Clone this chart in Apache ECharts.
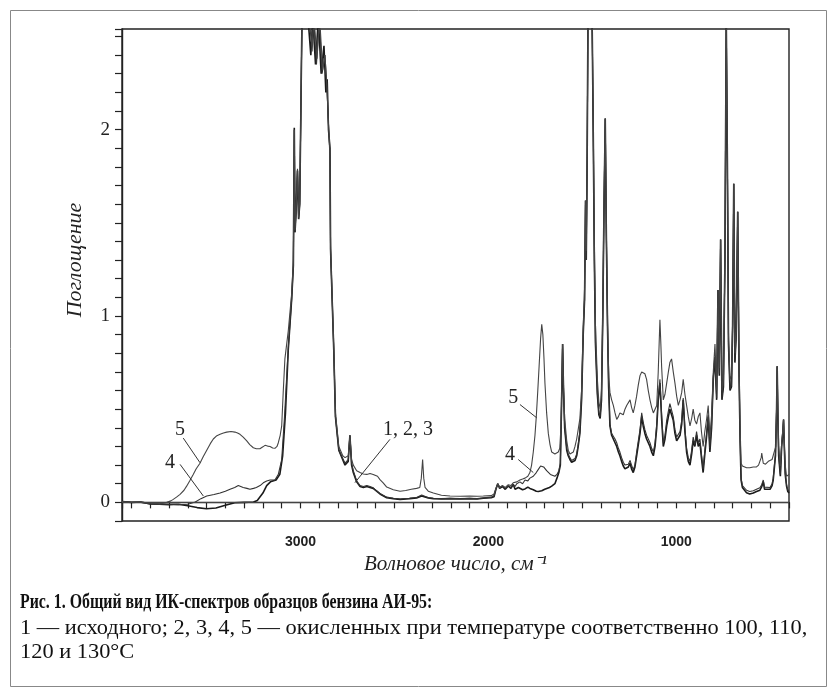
<!DOCTYPE html>
<html>
<head>
<meta charset="utf-8">
<script src="https://cdn.jsdelivr.net/npm/echarts@6/dist/echarts.min.js"></script>
<style>
  html, body { margin: 0; padding: 0; background: #fff; }
  #chart { width: 833px; height: 693px; }
</style>
</head>
<body>
<div id="chart"></div>
<script>
// IR absorption spectra of AI-95 gasoline samples: [wavenumber cm^-1, absorbance]
const WAVENUMBER_LABELS = [1000, 2000, 3000];
const ABSORBANCE_LABELS = [0, 1, 2];

// samples 1, 2, 3 (initial and oxidised at 100 and 110 °C) — practically coincide
const curve123 = [
  [3950,0.005],[3900,0],[3850,0.002],[3800,-0.008],[3750,-0.01],[3700,-0.012],[3650,-0.01],
  [3600,-0.018],[3550,-0.028],[3500,-0.034],[3450,-0.03],[3400,-0.016],[3350,-0.002],[3300,0],
  [3250,0.002],[3230,0.01],[3200,0.05],[3180,0.09],[3160,0.11],[3130,0.12],[3110,0.15],[3095,0.25],
  [3080,0.48],[3065,0.82],[3047,1.09],[3038,1.27],[3033,2.01],[3029,1.45],[3024,1.55],[3016,1.78],
  [3010,1.52],[3004,1.6],[2998,2.1],[2992,2.6],[2960,2.6],[2945,2.4],[2935,2.6],[2920,2.35],
  [2905,2.6],[2890,2.3],[2875,2.45],[2865,2.2],[2858,2.27],[2851,2.0],[2843,1.9],[2840,1.36],
  [2823,0.82],[2814,0.46],[2796,0.28],[2763,0.2],[2746,0.22],[2737,0.36],[2728,0.2],[2719,0.16],
  [2701,0.11],[2683,0.085],[2665,0.08],[2647,0.085],[2630,0.08],[2613,0.075],[2595,0.06],[2577,0.045],
  [2541,0.025],[2506,0.02],[2470,0.016],[2420,0.02],[2382,0.024],[2355,0.034],[2345,0.03],[2320,0.024],
  [2293,0.02],[2250,0.018],[2204,0.02],[2150,0.018],[2100,0.02],[2060,0.018],[2027,0.022],[1985,0.025],
  [1970,0.03],[1960,0.07],[1950,0.1],[1940,0.075],[1925,0.085],[1910,0.07],[1894,0.088],[1880,0.075],
  [1868,0.097],[1858,0.07],[1849,0.06],[1840,0.08],[1832,0.09],[1818,0.068],[1805,0.072],[1790,0.082],
  [1779,0.075],[1761,0.068],[1745,0.06],[1734,0.058],[1716,0.062],[1700,0.07],[1690,0.073],[1675,0.08],
  [1663,0.087],[1646,0.1],[1635,0.13],[1625,0.16],[1617,0.2],[1611,0.5],[1605,0.85],[1600,0.6],
  [1594,0.4],[1583,0.28],[1575,0.25],[1566,0.23],[1557,0.215],[1548,0.21],[1539,0.225],[1530,0.25],
  [1522,0.3],[1513,0.37],[1504,0.55],[1495,0.91],[1488,1.09],[1483,1.62],[1479,1.3],[1474,1.88],
  [1470,2.6],[1448,2.6],[1442,2.0],[1436,1.3],[1430,0.85],[1420,0.58],[1412,0.47],[1405,0.45],
  [1398,0.55],[1391,1.0],[1385,1.55],[1378,2.06],[1372,1.42],[1366,0.95],[1360,0.62],[1353,0.41],
  [1344,0.36],[1335,0.34],[1326,0.32],[1317,0.3],[1308,0.27],[1300,0.25],[1291,0.22],[1282,0.195],
  [1273,0.18],[1264,0.177],[1255,0.19],[1246,0.21],[1238,0.18],[1229,0.16],[1220,0.19],[1211,0.25],
  [1202,0.31],[1193,0.37],[1184,0.46],[1176,0.41],[1167,0.37],[1158,0.34],[1149,0.32],[1140,0.3],
  [1131,0.27],[1122,0.25],[1113,0.3],[1104,0.4],[1096,0.55],[1087,0.64],[1078,0.45],[1069,0.3],
  [1060,0.34],[1051,0.41],[1042,0.46],[1034,0.5],[1025,0.5],[1016,0.44],[1007,0.37],[998,0.33],
  [989,0.32],[980,0.36],[971,0.42],[963,0.55],[954,0.38],[945,0.27],[936,0.22],[927,0.2],
  [918,0.26],[910,0.33],[901,0.3],[892,0.36],[883,0.3],[874,0.32],[866,0.24],[857,0.16],
  [848,0.26],[838,0.36],[830,0.46],[821,0.27],[812,0.4],[803,0.66],[794,0.78],[785,0.55],
  [778,1.14],[771,0.68],[764,1.41],[757,0.55],[749,0.62],[741,1.3],[734,2.6],[728,1.83],
  [722,0.85],[714,0.6],[706,0.62],[700,0.95],[694,1.71],[688,0.75],[681,0.9],[673,1.56],
  [666,0.7],[660,0.32],[655,0.12],[648,0.08],[640,0.07],[626,0.052],[609,0.045],[590,0.05],
  [573,0.058],[555,0.065],[545,0.085],[537,0.11],[530,0.07],[520,0.06],[501,0.07],[490,0.09],
  [484,0.12],[472,0.25],[466,0.5],[463,0.73],[459,0.45],[455,0.25],[446,0.14],[439,0.3],
  [433,0.37],[429,0.445],[425,0.3],[420,0.15],[413,0.087],[407,0.06],[400,0.05]
];

// sample 4 — oxidised at 120 °C
const curve4 = [
  [3950,0.005],[3900,0],[3850,0],[3800,-0.008],[3750,-0.01],[3700,-0.01],[3650,-0.012],[3600,-0.01],
  [3560,0.002],[3530,0.02],[3499,0.034],[3460,0.042],[3428,0.05],[3400,0.06],[3375,0.07],[3350,0.08],
  [3331,0.09],[3305,0.08],[3285,0.075],[3269,0.07],[3250,0.075],[3235,0.08],[3215,0.09],[3198,0.105],
  [3180,0.115],[3162,0.12],[3136,0.12],[3118,0.15],[3100,0.23],[3085,0.46],[3065,0.83],[3047,1.09],
  [3038,1.27],[3033,2.0],[3029,1.45],[3024,1.55],[3016,1.78],[3010,1.52],[3004,1.6],[2998,2.1],
  [2992,2.6],[2955,2.6],[2940,2.45],[2930,2.6],[2915,2.35],[2900,2.6],[2885,2.3],[2870,2.4],
  [2858,2.2],[2850,2.0],[2843,1.85],[2840,1.36],[2823,0.82],[2814,0.46],[2796,0.28],[2763,0.21],
  [2746,0.23],[2737,0.36],[2728,0.21],[2719,0.17],[2701,0.115],[2683,0.09],[2665,0.085],[2647,0.09],
  [2630,0.085],[2613,0.078],[2595,0.062],[2577,0.048],[2541,0.028],[2506,0.022],[2470,0.018],[2420,0.022],
  [2382,0.026],[2355,0.04],[2345,0.032],[2320,0.025],[2293,0.022],[2250,0.02],[2204,0.022],[2150,0.02],
  [2100,0.022],[2060,0.02],[2027,0.024],[1985,0.028],[1970,0.035],[1960,0.07],[1950,0.1],[1940,0.08],
  [1925,0.09],[1910,0.075],[1894,0.09],[1880,0.08],[1868,0.097],[1858,0.085],[1849,0.1],[1840,0.095],
  [1832,0.11],[1818,0.1],[1805,0.12],[1790,0.115],[1779,0.13],[1761,0.14],[1745,0.16],[1734,0.177],
  [1722,0.195],[1716,0.2],[1706,0.19],[1699,0.186],[1690,0.17],[1681,0.16],[1670,0.15],[1663,0.14],
  [1646,0.14],[1635,0.15],[1625,0.17],[1617,0.21],[1611,0.5],[1605,0.85],[1600,0.6],[1594,0.41],
  [1583,0.29],[1575,0.26],[1566,0.24],[1557,0.225],[1548,0.22],[1539,0.235],[1530,0.26],[1522,0.31],
  [1513,0.38],[1504,0.56],[1495,0.92],[1488,1.09],[1483,1.6],[1479,1.3],[1474,1.88],[1470,2.6],
  [1448,2.6],[1442,2.0],[1436,1.3],[1430,0.86],[1420,0.59],[1412,0.48],[1405,0.46],[1398,0.56],
  [1391,1.0],[1385,1.55],[1378,2.06],[1372,1.42],[1366,0.95],[1360,0.63],[1353,0.42],[1344,0.37],
  [1335,0.355],[1326,0.34],[1317,0.32],[1308,0.29],[1300,0.27],[1291,0.24],[1282,0.215],[1273,0.2],
  [1264,0.19],[1255,0.205],[1246,0.225],[1238,0.2],[1229,0.175],[1220,0.2],[1211,0.27],[1202,0.33],
  [1193,0.39],[1184,0.48],[1176,0.43],[1167,0.39],[1158,0.36],[1149,0.34],[1140,0.32],[1131,0.29],
  [1122,0.27],[1113,0.32],[1104,0.42],[1096,0.56],[1087,0.66],[1078,0.47],[1069,0.32],[1060,0.36],
  [1051,0.44],[1042,0.49],[1034,0.53],[1025,0.52],[1016,0.46],[1007,0.39],[998,0.35],[989,0.34],
  [980,0.38],[971,0.44],[963,0.56],[954,0.4],[945,0.29],[936,0.24],[927,0.22],[918,0.28],
  [910,0.35],[901,0.31],[892,0.38],[883,0.32],[874,0.34],[866,0.26],[857,0.18],[848,0.28],
  [838,0.38],[830,0.47],[821,0.29],[812,0.42],[803,0.67],[794,0.78],[785,0.56],[778,1.14],
  [771,0.69],[764,1.41],[757,0.56],[749,0.63],[741,1.3],[734,2.6],[728,1.83],[722,0.86],
  [714,0.61],[706,0.63],[700,0.95],[694,1.71],[688,0.76],[681,0.9],[673,1.56],[666,0.71],
  [660,0.33],[655,0.13],[648,0.09],[640,0.08],[626,0.065],[609,0.058],[590,0.062],[573,0.07],
  [555,0.078],[545,0.095],[537,0.12],[530,0.082],[520,0.072],[501,0.08],[490,0.1],[484,0.13],
  [472,0.26],[466,0.5],[463,0.73],[459,0.45],[455,0.26],[446,0.15],[439,0.31],[433,0.38],
  [429,0.445],[425,0.31],[420,0.16],[413,0.095],[407,0.068],[400,0.058]
];

// sample 5 — oxidised at 130 °C
const curve5 = [
  [3950,0.005],[3900,0],[3850,0.002],[3800,-0.005],[3750,-0.008],[3712,0],[3690,0.008],[3677,0.016],
  [3660,0.028],[3641,0.043],[3620,0.065],[3606,0.087],[3590,0.115],[3571,0.15],[3555,0.18],[3535,0.21],
  [3518,0.245],[3499,0.28],[3480,0.315],[3464,0.34],[3445,0.358],[3428,0.365],[3410,0.372],[3393,0.377],
  [3370,0.38],[3349,0.377],[3335,0.372],[3322,0.365],[3305,0.35],[3286,0.33],[3270,0.31],[3251,0.293],
  [3235,0.288],[3216,0.288],[3200,0.298],[3189,0.306],[3175,0.302],[3162,0.3],[3148,0.292],[3136,0.29],
  [3125,0.3],[3118,0.32],[3108,0.36],[3100,0.41],[3092,0.59],[3083,0.77],[3065,0.92],[3047,1.12],
  [3038,1.3],[3033,2.0],[3029,1.46],[3024,1.56],[3016,1.79],[3010,1.53],[3004,1.62],[2998,2.1],
  [2992,2.6],[2950,2.6],[2938,2.42],[2928,2.6],[2912,2.38],[2898,2.6],[2882,2.32],[2870,2.4],
  [2860,2.25],[2852,2.05],[2844,1.9],[2840,1.38],[2823,0.84],[2814,0.48],[2796,0.3],[2775,0.25],
  [2763,0.24],[2746,0.25],[2737,0.36],[2728,0.23],[2719,0.2],[2701,0.17],[2683,0.16],[2666,0.152],
  [2647,0.15],[2630,0.155],[2613,0.15],[2590,0.14],[2577,0.122],[2560,0.105],[2541,0.082],[2506,0.068],
  [2470,0.06],[2440,0.064],[2410,0.07],[2382,0.075],[2365,0.08],[2357,0.13],[2350,0.23],[2344,0.13],
  [2337,0.08],[2320,0.06],[2293,0.05],[2250,0.038],[2204,0.034],[2150,0.033],[2100,0.034],[2060,0.033],
  [2027,0.034],[1985,0.036],[1970,0.045],[1960,0.075],[1950,0.1],[1940,0.08],[1925,0.09],[1910,0.08],
  [1894,0.095],[1880,0.09],[1868,0.105],[1858,0.1],[1849,0.11],[1840,0.115],[1832,0.12],[1818,0.125],
  [1805,0.13],[1790,0.14],[1779,0.16],[1770,0.2],[1761,0.27],[1752,0.36],[1745,0.46],[1737,0.6],
  [1730,0.73],[1722,0.88],[1716,0.955],[1710,0.9],[1704,0.77],[1699,0.64],[1690,0.48],[1681,0.37],
  [1672,0.31],[1663,0.27],[1655,0.262],[1646,0.26],[1637,0.265],[1628,0.27],[1620,0.29],[1614,0.4],
  [1610,0.6],[1605,0.85],[1600,0.62],[1594,0.45],[1583,0.33],[1575,0.28],[1566,0.26],[1557,0.255],
  [1548,0.27],[1539,0.3],[1530,0.34],[1522,0.39],[1513,0.45],[1504,0.6],[1495,0.95],[1488,1.15],
  [1483,1.62],[1479,1.35],[1474,1.88],[1470,2.6],[1448,2.6],[1442,2.05],[1436,1.4],[1430,0.95],
  [1420,0.66],[1412,0.54],[1405,0.5],[1398,0.6],[1391,1.05],[1385,1.6],[1378,2.06],[1372,1.45],
  [1366,1.0],[1362,0.78],[1358,0.66],[1353,0.59],[1344,0.55],[1335,0.52],[1326,0.48],[1317,0.445],
  [1308,0.46],[1300,0.48],[1291,0.47],[1282,0.47],[1273,0.5],[1264,0.52],[1255,0.53],[1246,0.55],
  [1238,0.51],[1229,0.48],[1220,0.52],[1211,0.57],[1202,0.63],[1193,0.68],[1184,0.7],[1176,0.71],
  [1167,0.69],[1158,0.66],[1149,0.6],[1140,0.55],[1131,0.51],[1122,0.48],[1113,0.49],[1104,0.52],
  [1096,0.7],[1087,0.98],[1082,0.85],[1078,0.73],[1069,0.55],[1060,0.58],[1051,0.64],[1042,0.7],
  [1034,0.75],[1025,0.77],[1016,0.7],[1007,0.64],[998,0.57],[989,0.52],[980,0.55],[971,0.59],
  [963,0.66],[954,0.58],[945,0.52],[936,0.46],[927,0.41],[918,0.45],[910,0.5],[901,0.44],
  [892,0.42],[883,0.46],[874,0.48],[866,0.38],[857,0.3],[848,0.38],[838,0.45],[830,0.52],
  [821,0.35],[812,0.47],[803,0.7],[794,0.85],[785,0.6],[778,1.14],[771,0.72],[764,1.41],
  [757,0.6],[749,0.66],[741,1.3],[734,2.6],[728,1.83],[722,0.9],[714,0.66],[706,0.68],
  [700,0.97],[694,1.71],[688,0.8],[681,0.92],[673,1.56],[666,0.75],[660,0.4],[655,0.21],
  [648,0.195],[640,0.19],[626,0.186],[609,0.186],[590,0.19],[573,0.19],[562,0.2],[555,0.21],
  [548,0.24],[545,0.265],[540,0.23],[537,0.21],[525,0.205],[510,0.22],[501,0.215],[490,0.23],
  [484,0.24],[476,0.28],[470,0.3],[466,0.52],[463,0.73],[459,0.5],[455,0.3],[446,0.195],
  [439,0.32],[433,0.39],[429,0.445],[425,0.32],[420,0.2],[413,0.14],[407,0.14],[400,0.15]
];

// curve labels and their leader lines, placed in data coordinates
const labelMarks = [
  { series: 2, text: '5', at: [3641, 0.39], from: [3624, 0.345], to: [3535, 0.213] },
  { series: 1, text: '4', at: [3694, 0.213], from: [3641, 0.204], to: [3517, 0.034] },
  { series: 0, text: '1, 2, 3', at: [2428, 0.39], from: [2524, 0.338], to: [2710, 0.106] },
  { series: 2, text: '5', at: [1868, 0.56], from: [1832, 0.525], to: [1743, 0.454] },
  { series: 1, text: '4', at: [1885, 0.257], from: [1841, 0.23], to: [1761, 0.16] }
];

const SERIF = '"Liberation Serif", "Times New Roman", serif';

function marksFor(idx) {
  const own = labelMarks.filter(m => m.series === idx);
  return {
    markPoint: {
      silent: true,
      symbol: 'circle',
      symbolSize: 1,
      itemStyle: { color: 'rgba(0,0,0,0)' },
      label: { show: true, position: 'inside', color: '#222', fontFamily: SERIF, fontSize: 20,
               formatter: p => p.name },
      data: own.map(m => ({ name: m.text, coord: m.at }))
    },
    markLine: {
      silent: true,
      symbol: ['none', 'none'],
      animation: false,
      label: { show: false },
      lineStyle: { color: '#333', width: 1, type: 'solid' },
      emphasis: { disabled: true },
      data: (idx === 0 ? [{ yAxis: 0, lineStyle: { color: '#444', width: 1, type: 'solid' } }] : [])
        .concat(own.map(m => [{ coord: m.from }, { coord: m.to }]))
    }
  };
}

const chart = echarts.init(document.getElementById('chart'), null, { renderer: 'canvas' });

const option = {
  animation: false,
  backgroundColor: '#fff',
  grid: {
    left: 122, right: 44, top: 29, bottom: 172,
    show: true, borderColor: '#222', borderWidth: 1.4, backgroundColor: 'transparent'
  },
  xAxis: {
    type: 'value', inverse: true, min: 400, max: 3950, interval: 100,
    name: 'Волновое число, см⁻¹', nameLocation: 'middle', nameGap: 21,
    nameTextStyle: { fontFamily: SERIF, fontStyle: 'italic', fontSize: 21, color: '#222' },
    axisLine: { lineStyle: { color: '#222', width: 1.4 } },
    axisTick: { length: 6, lineStyle: { color: '#222', width: 1.2 } },
    splitLine: { show: false },
    axisLabel: {
      margin: 14, color: '#222', fontFamily: '"Liberation Sans", Arial, sans-serif',
      fontSize: 14, fontWeight: 'bold',
      formatter: v => (WAVENUMBER_LABELS.indexOf(Math.round(v)) >= 0 ? String(Math.round(v)) : '')
    }
  },
  yAxis: {
    type: 'value', min: -0.1, max: 2.54, interval: 0.1,
    axisLine: { lineStyle: { color: '#222', width: 1.4 } },
    axisTick: { length: 7, lineStyle: { color: '#222', width: 1.2 } },
    splitLine: { show: false },
    axisLabel: {
      margin: 12, color: '#222', fontFamily: SERIF, fontSize: 19,
      formatter: v => {
        const hit = ABSORBANCE_LABELS.find(t => Math.abs(v - t) < 1e-6);
        return hit === undefined ? '' : String(hit);
      }
    }
  },
  series: [
    Object.assign({
      name: '1, 2, 3', type: 'line', data: curve123, showSymbol: false, symbol: 'none', clip: true,
      lineStyle: { color: '#1a1a1a', width: 1.6 }
    }, marksFor(0)),
    Object.assign({
      name: '4', type: 'line', data: curve4, showSymbol: false, symbol: 'none', clip: true,
      lineStyle: { color: '#333', width: 1.1 }
    }, marksFor(1)),
    Object.assign({
      name: '5', type: 'line', data: curve5, showSymbol: false, symbol: 'none', clip: true,
      lineStyle: { color: '#444', width: 1.1 }
    }, marksFor(2))
  ],
  graphic: [
    { type: 'rect', left: 8, top: 8, z: -1, silent: true,
      shape: { width: 816, height: 676 }, style: { fill: 'none', stroke: '#888', lineWidth: 1 } },
    { type: 'text', x: 75, y: 260, rotation: Math.PI / 2, silent: true,
      style: { text: 'Поглощение', font: 'italic 22px ' + SERIF, fill: '#222',
               align: 'center', verticalAlign: 'middle' } },
    { type: 'text', x: 20, y: 592, scaleX: 0.755, silent: true,
      style: { text: 'Рис. 1. Общий вид ИК-спектров образцов бензина АИ-95:',
               font: 'bold 21px ' + SERIF, fill: '#111' } },
    { type: 'text', x: 20, y: 617, scaleX: 1.018, silent: true,
      style: { text: '1 — исходного; 2, 3, 4, 5 — окисленных при температуре соответственно 100, 110,',
               font: '22px ' + SERIF, fill: '#111' } },
    { type: 'text', x: 20, y: 641, scaleX: 1.018, silent: true,
      style: { text: '120 и 130°C', font: '22px ' + SERIF, fill: '#111' } }
  ]
};

chart.setOption(option);
</script>
</body>
</html>
